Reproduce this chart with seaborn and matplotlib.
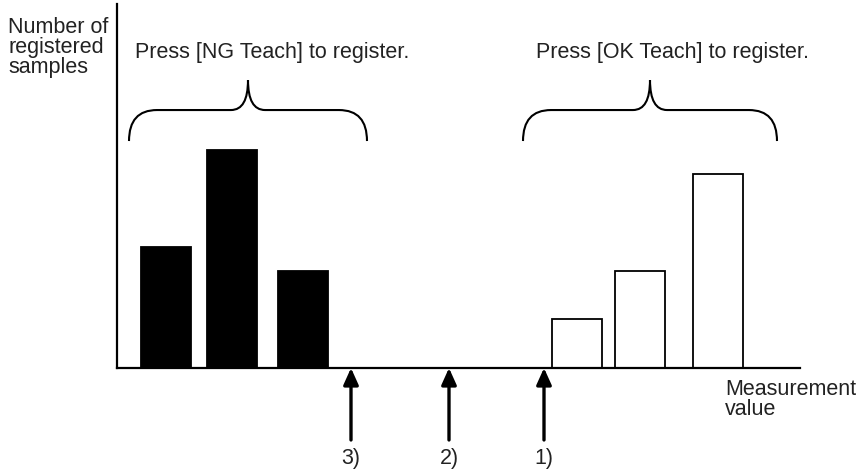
import numpy as np
import pandas as pd
import seaborn as sns
import matplotlib.pyplot as plt
from matplotlib.path import Path
from matplotlib.patches import PathPatch

# data
ng_values = [49, 114.5, 186]
ng_counts = [5, 9, 4]
ok_values = [459.5, 523, 600.5]
ok_counts = [2, 4, 8]
threshold_values = [427, 332, 234]
threshold_labels = ['1)', '2)', '3)']

df = pd.DataFrame({
    'value': ng_values + ok_values,
    'count': ng_counts + ok_counts,
    'group': ['NG'] * 3 + ['OK'] * 3,
})

sns.set_style('white')
plt.rcParams['font.family'] = ['Liberation Sans', 'DejaVu Sans']
text_col = '#222222'

fig = plt.figure(figsize=(8.59, 4.70), dpi=100)
ax = fig.add_axes([117 / 859, 1 - 368 / 470, 683 / 859, 364 / 470])

bar_w = 50 / np.diff(np.sort(df['value'].values)).min()
sns.barplot(data=df, x='value', y='count', hue='group', native_scale=True,
            dodge=False, width=bar_w, palette={'NG': 'black', 'OK': 'white'},
            edgecolor='black', linewidth=1.3, legend=False, ax=ax)

ax.set_xlim(0, 683)
ax.set_ylim(0, 15)
ax.set_xticks([])
ax.set_yticks([])
ax.set_xlabel('')
ax.set_ylabel('')
sns.despine(ax=ax)
for s in ['left', 'bottom']:
    ax.spines[s].set_linewidth(1.6)
    ax.spines[s].set_color('black')

px = 24.27  # pixels per count


def brace(x0, x1, y_low, y_mid, y_top):
    xc = (x0 + x1) / 2
    r1 = 28
    r2 = 17
    verts = [(x0, y_low), (x0, y_mid), (x0 + r1, y_mid),
             (xc - r2, y_mid), (xc, y_mid), (xc, y_top),
             (xc, y_mid), (xc + r2, y_mid),
             (x1 - r1, y_mid), (x1, y_mid), (x1, y_low)]
    codes = [Path.MOVETO, Path.CURVE3, Path.CURVE3,
             Path.LINETO, Path.CURVE3, Path.CURVE3,
             Path.CURVE3, Path.CURVE3,
             Path.LINETO, Path.CURVE3, Path.CURVE3]
    ax.add_patch(PathPatch(Path(verts, codes), fill=False, lw=1.5,
                           edgecolor='black', clip_on=False))


y_low = (368 - 141) / px
y_mid = (368 - 110) / px
y_top = (368 - 80) / px
brace(12, 250, y_low, y_mid, y_top)
brace(406, 660, y_low, y_mid, y_top)

fs = 15.5
ax.text(155, (368 - 52) / px, 'Press [NG Teach] to register.', ha='center',
        va='center', fontsize=fs, color=text_col)
ax.text(556, (368 - 52) / px, 'Press [OK Teach] to register.', ha='center',
        va='center', fontsize=fs, color=text_col)

# threshold arrows
for xv, lab in zip(threshold_values, threshold_labels):
    ax.annotate('', xy=(xv, 0), xytext=(xv, -72 / px),
                arrowprops=dict(arrowstyle='-|>,head_length=1.0,head_width=0.45',
                                color='black', lw=2.4, shrinkA=0, shrinkB=0),
                annotation_clip=False)
    ax.text(xv, -91 / px, lab, ha='center', va='center', fontsize=fs,
            color=text_col)

fig.text(8 / 859, 1 - 17 / 470, 'Number of\nregistered\nsamples', ha='left',
         va='top', fontsize=fs, color=text_col, linespacing=0.93)
fig.text(725 / 859, 1 - 379 / 470, 'Measurement\nvalue', ha='left', va='top',
         fontsize=fs, color=text_col, linespacing=0.95)

fig.savefig('out.png', dpi=100)
